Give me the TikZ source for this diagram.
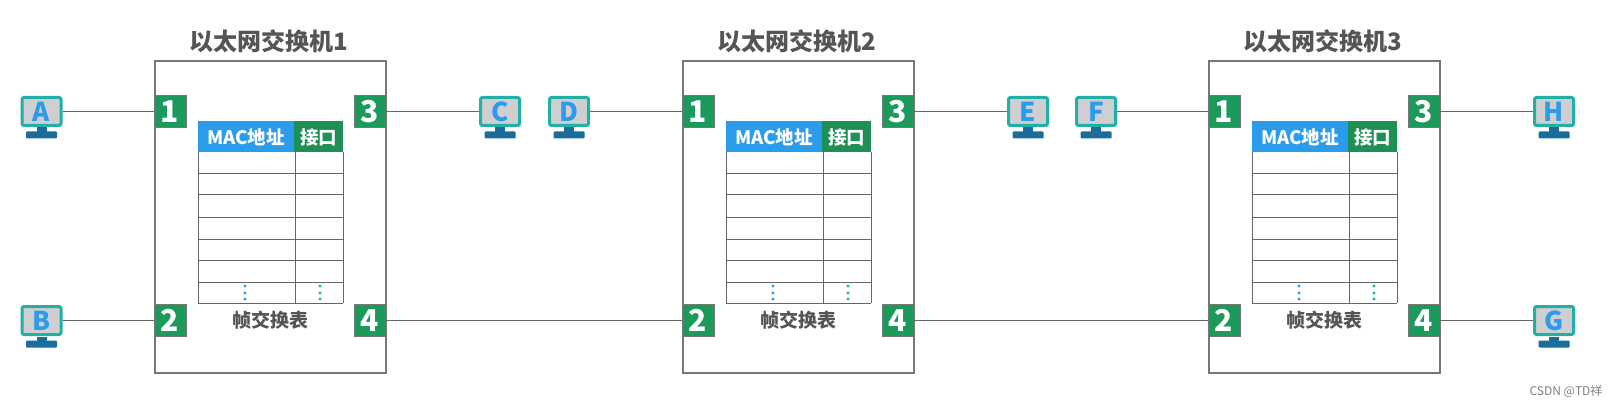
\documentclass[tikz,border=0pt]{standalone}
\usepackage{fontspec}
\setmainfont{Noto Sans CJK SC}
\definecolor{lineg}{HTML}{666666}
\definecolor{boxg}{HTML}{777777}
\definecolor{portg}{HTML}{1C9A5C}
\definecolor{hblue}{HTML}{2B9CEC}
\definecolor{hgreen}{HTML}{1E8F55}
\definecolor{teal1}{HTML}{22AFA6}
\definecolor{stand}{HTML}{1A6C9A}
\definecolor{scr}{HTML}{CFCFD2}
\definecolor{txt}{HTML}{555555}
\tikzset{
  portbox/.style={draw=boxg,line width=0.6pt,fill=portg,minimum size=32pt,inner sep=0pt,text=white,font=\fontsize{30}{30}\selectfont\bfseries},
  switchbox/.style={draw=boxg,line width=1.2pt,minimum width=231pt,minimum height=312pt,inner sep=0pt},
  titletext/.style={text=txt,font=\fontsize{24}{26}\selectfont\bfseries,inner sep=0pt},
  captext/.style={text=txt,font=\fontsize{19}{21}\selectfont\bfseries,inner sep=0pt},
  headblue/.style={fill=hblue,minimum width=96pt,minimum height=31pt,inner sep=0pt,text=white,font=\fontsize{18.5}{20}\selectfont\bfseries},
  headgreen/.style={fill=hgreen,minimum width=49pt,minimum height=31pt,inner sep=0pt,text=white,font=\fontsize{18.5}{20}\selectfont\bfseries},
  screen/.style={draw=teal1,line width=3pt,fill=scr,rounded corners=2pt,minimum width=39pt,minimum height=28pt,inner sep=0pt,text=hblue,font=\fontsize{26}{26}\selectfont\bfseries},
  link/.style={draw=lineg,line width=1.8pt},
  grid/.style={draw=lineg,line width=1pt},
  vdot/.style={circle,inner sep=0pt,minimum size=3.4pt},
}
\newcommand{\mymonitor}[4]{% name, x, y(center), letter
  \node[screen] (#1) at (#2,#3) {#4};
  \fill[stand] (#2-5,#3+16) rectangle (#2+5,#3+21);
  \fill[stand,rounded corners=1pt] (#2-15.5,#3+20) rectangle (#2+15.5,#3+27);
}
\begin{document}
\begin{tikzpicture}[x=1pt,y=-1pt]
\useasboundingbox (0,0) rectangle (1613,406);
\fill[white] (0,0) rectangle (1613,406);
\foreach \s/\ox in {1/0,2/528,3/1054}{
  \node[switchbox] (sw\s) at (270.5+\ox,217) {};
  \node[titletext] (title\s) at (268.5+\ox,41) {以太网交换机\s};
  % table body
  \foreach \yy in {152,174,195,217,239,260,282,303}{
    \draw[grid] (198+\ox,\yy) -- (343+\ox,\yy);
  }
  \draw[grid] (198+\ox,152) -- (198+\ox,303);
  \draw[grid] (295+\ox,152) -- (295+\ox,303);
  \draw[grid] (343+\ox,152) -- (343+\ox,303);
  \node[headblue] (hm\s) at (246+\ox,137) {MAC地址};
  \node[headgreen] (hp\s) at (318.5+\ox,137) {接口};
  \foreach \yy in {286,293,299}{
    \node[vdot,fill=hblue] at (245+\ox,\yy) {};
    \node[vdot,fill=teal1] at (320+\ox,\yy) {};
  }
  \node[captext] (cap\s) at (270+\ox,320) {帧交换表};
  \node[portbox] (s\s p1) at (170+\ox,111.5) {1};
  \node[portbox] (s\s p2) at (170+\ox,320.5) {2};
  \node[portbox] (s\s p3) at (370+\ox,111.5) {3};
  \node[portbox] (s\s p4) at (370+\ox,320.5) {4};
}
\mymonitor{A}{41.5}{111.5}{A}
\mymonitor{B}{41.5}{320.5}{B}
\mymonitor{C}{500}{111.5}{C}
\mymonitor{D}{569}{111.5}{D}
\mymonitor{E}{1028}{111.5}{E}
\mymonitor{F}{1096}{111.5}{F}
\mymonitor{H}{1554}{111.5}{H}
\mymonitor{G}{1554}{320.5}{G}
\draw[link] (A) -- (s1p1);
\draw[link] (B) -- (s1p2);
\draw[link] (s1p3) -- (C);
\draw[link] (D) -- (s2p1);
\draw[link] (s1p4) -- (s2p2);
\draw[link] (s2p3) -- (E);
\draw[link] (F) -- (s3p1);
\draw[link] (s2p4) -- (s3p2);
\draw[link] (s3p3) -- (H);
\draw[link] (s3p4) -- (G);
\node[text=gray,font=\fontsize{12}{13}\selectfont,inner sep=0pt] (wm) at (1566,391) {CSDN @TD祥};
\end{tikzpicture}
\end{document}
